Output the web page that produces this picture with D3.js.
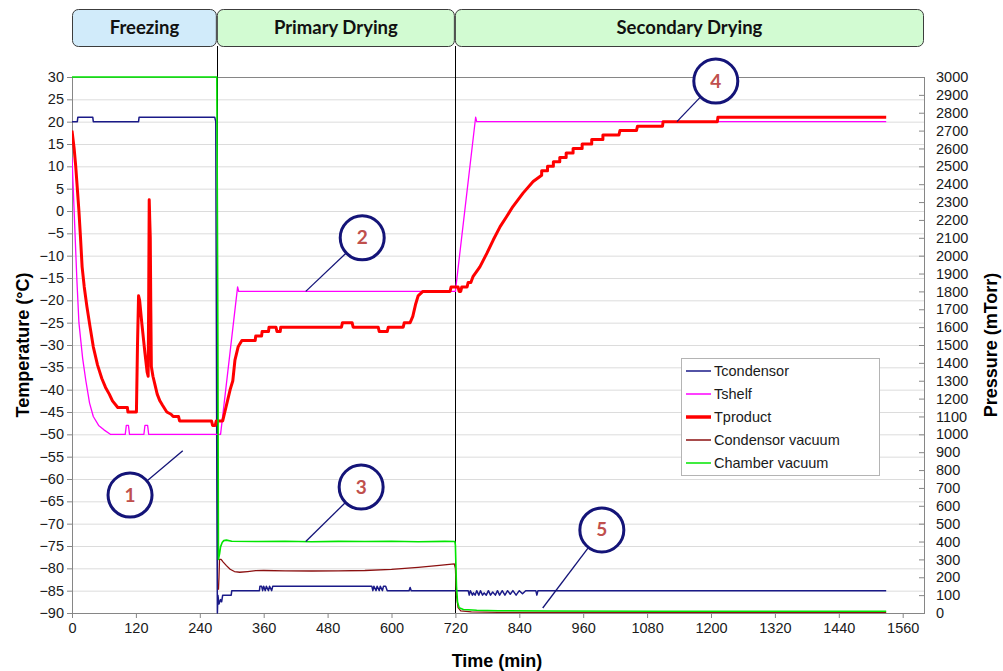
<!DOCTYPE html>
<html>
<head>
<meta charset="utf-8">
<script src="https://cdn.jsdelivr.net/npm/d3@7"></script>
<style>
  html, body { margin: 0; padding: 0; background: #fff; }
  svg { display: block; }
</style>
</head>
<body>
<svg id="chart" width="1003" height="671"></svg>
<script>
// ---- Freeze-drying cycle record: temperatures (°C) and pressures (mTorr) vs time (min) ----

const timeTicks = d3.range(0, 1561, 120);
const tempTicks = d3.range(-90, 31, 5);
const pressTicks = d3.range(0, 3001, 100);

const phases = [
  { name: "Freezing", start: 0, end: 272, fill: "#d1ebfa" },
  { name: "Primary Drying", start: 272, end: 719, fill: "#d2fbd2" },
  { name: "Secondary Drying", start: 719, end: 1600, fill: "#d2fbd2" }
];

// [time, °C]
const tCondensor = [
  [0,20],[10,20],[11,21],[39,21],[40,20],[125,20],[126,21],[268,21],[270,20],[272,-60],[273,-90],
  [274,-86],[276,-88],[279,-87],[281,-87.5],[283,-86],[299,-86],[300,-85],[352,-85],[353,-84],
  [356,-84],[358,-85],[360,-84],[363,-85],[365,-84],[369,-85],[371,-84],[375,-85],[377,-84],
  [563,-84],[565,-85],[567,-84],[571,-85],[573,-84],[577,-85],[579,-84],[583,-85],[585,-84],
  [589,-84],[592,-85],[633,-85],[635,-84.3],[637,-85],[744,-85],[746,-86],[748,-85],[752,-86],
  [754,-85.5],[757,-86],[760,-85],[764,-86],[767,-85],[771,-86],[774,-85.5],[778,-86],[782,-85],
  [786,-86],[790,-85.3],[795,-86],[799,-85],[803,-86],[808,-85],[813,-86],[818,-85],[823,-85.8],
  [828,-85],[834,-86],[840,-85],[846,-85.7],[852,-85],[871,-85],[873,-86],[875,-85],[1529,-85]
];

const tShelf = [
  [0,12],[5,-3],[9,-15],[13,-25],[20,-33],[26,-38],[33,-43],[40,-46],[50,-48],[60,-49],[72,-50],
  [100,-50],[102,-48],[106,-48],[108,-50],[135,-50],[137,-48],[142,-48],[144,-50],[279,-50],
  [311,-17],[313,-18],[720,-18],[758,21],[760,20],[1529,20]
];

const tProduct = [
  [0,18],[4,14],[7,10],[10,5],[13,0],[16,-6],[19,-12.5],[23,-17],[28,-21.4],[34,-26],[40,-30.4],
  [48,-34.5],[56,-37.5],[63,-39.5],[70,-41],[76,-42.5],[86,-44],[104,-44],[105,-45],[121,-45],
  [123,-30],[125,-19],[127,-20],[131,-25],[137,-31.8],[141,-36],[143,-37],[144,-20],[145,2.5],
  [146,-2],[147,-6],[148,-22],[149,-34.8],[152,-37],[155,-38.5],[160,-41],[165,-42.5],[170,-43.5],
  [178,-45],[186,-45.5],[190,-46],[200,-46],[202,-47],[262,-47],[264,-48],[269,-48],[271,-47],
  [283,-47],[287,-45],[297,-40],[302,-38],[306,-33.4],[312,-30.4],[319,-29],[344,-29],[345,-28],
  [356,-28],[357,-27],[369,-27],[370,-26],[383,-26],[385,-27],[391,-27],[392,-26],[506,-26],
  [508,-25],[526,-25],[528,-26],[575,-26],[577,-27],[592,-27],[594,-26],[622,-26],[624,-25],
  [635,-25],[640,-23.6],[645,-21],[650,-19],[659,-18],[710,-18],[712,-17],[725,-17],[727,-18],
  [730,-18],[732,-17],[742,-17],[744,-16],[749,-16],[753,-14.7],[766,-12.5],[779,-9.5],[791,-6.5],
  [804,-3.5],[816,-1.3],[828,1],[847,4],[866,6.6],[882,8],[882,9],[893,9],[893,10],[904,10],
  [904,11],[916,11],[916,12],[928,12],[928,13],[941,13],[941,14],[958,14],[958,15],[976,15],
  [976,16],[997,16],[997,17],[1027,17],[1029,18],[1060,18],[1062,19],[1109,19],[1110,20],
  [1212,20],[1213,21],[1529,21]
];

// [time, mTorr]
const condensorVacuum = [
  [275,130],[276,200],[277,300],[280,300],[284,285],[290,265],[297,245],[305,232],[315,228],
  [330,232],[345,237],[360,238],[400,236],[450,235],[500,236],[550,238],[600,244],[650,255],
  [690,266],[718,275],[720,250],[722,100],[725,30],[730,12],[750,6],[800,4],[1000,3],[1529,3]
];

const chamberVacuum = [
  [0,3000],[272,3000],[274,1500],[275,300],[277,330],[279,370],[282,395],[285,405],[290,408],
  [300,402],[350,400],[400,402],[450,399],[500,401],[550,400],[600,402],[650,399],[700,401],
  [719,400],[720,380],[722,150],[724,60],[727,30],[735,20],[760,15],[800,13],[900,11],
  [1100,10],[1300,10],[1529,10]
];

// numbered callouts: anchor on a curve, circle centre (same units as its axis)
const callouts = [
  { label: "1", axis: "T", at: [208, -53.7], centre: [109, -63.6] },
  { label: "2", axis: "T", at: [439, -18], centre: [545, -6] },
  { label: "3", axis: "P", at: [439, 400], centre: [543, -61.8] },
  { label: "4", axis: "T", at: [1136, 20], centre: [1209, 29.1] },
  { label: "5", axis: "P", at: [884, 28], centre: [995, -71.4] }
];

const series = [
  { name: "Tcondensor", data: tCondensor, axis: "T", color: "#1a1a88", width: 1.5 },
  { name: "Tshelf", data: tShelf, axis: "T", color: "#ff00ff", width: 1.3 },
  { name: "Tproduct", data: tProduct, axis: "T", color: "#ff0000", width: 3 },
  { name: "Condensor vacuum", data: condensorVacuum, axis: "P", color: "#8b1010", width: 1.3 },
  { name: "Chamber vacuum", data: chamberVacuum, axis: "P", color: "#00e600", width: 1.6 }
];

// ---- layout ----
const L = 72, R = 924, T = 77, B = 613;
const svg = d3.select("#chart");
const x = d3.scaleLinear().domain([0, 1600]).range([L, R]);
const yT = d3.scaleLinear().domain([-90, 30]).range([B, T]);
const yP = d3.scaleLinear().domain([0, 3000]).range([B, T]);
const yOf = a => (a === "T" ? yT : yP);

const tickFont = "'Liberation Sans', Arial, sans-serif";
const axisGrey = "#868686";
const fmt = d3.format("d");

// gridlines
svg.append("g").selectAll("line")
  .data(tempTicks.filter(v => v > -90 && v < 30))
  .join("line")
  .attr("x1", L).attr("x2", R)
  .attr("y1", d => yT(d) + 0.5).attr("y2", d => yT(d) + 0.5)
  .attr("stroke", "#dcdcdc").attr("stroke-width", 1);

// axes
function styleAxis(g) {
  g.select(".domain").remove();
  g.selectAll(".tick line").attr("stroke", axisGrey);
  g.selectAll(".tick text").attr("fill", "#1a1a1a")
    .style("font-family", tickFont).style("font-size", "14.5px");
}
svg.append("g").attr("transform", `translate(${L},0)`)
  .call(d3.axisLeft(yT).tickValues(tempTicks).tickFormat(fmt).tickSize(5).tickPadding(3))
  .call(styleAxis);
svg.append("g").attr("transform", `translate(${R},0)`)
  .call(d3.axisRight(yP).tickValues(pressTicks).tickFormat(fmt).tickSize(-5).tickPadding(12))
  .call(styleAxis);
svg.append("g").attr("transform", `translate(0,${B})`)
  .call(d3.axisBottom(x).tickValues(timeTicks).tickFormat(fmt).tickSize(5).tickPadding(5))
  .call(styleAxis);

// plot frame
svg.append("rect")
  .attr("x", L + 0.5).attr("y", T + 0.5)
  .attr("width", R - L).attr("height", B - T)
  .attr("fill", "none").attr("stroke", axisGrey).attr("stroke-width", 1);

// phase boxes and dividers
svg.append("g").selectAll("rect")
  .data(phases).join("rect")
  .attr("x", d => x(d.start) + 0.5)
  .attr("y", 9.5)
  .attr("width", d => x(d.end) - x(d.start) - 1)
  .attr("height", 37)
  .attr("rx", 6).attr("ry", 6)
  .attr("fill", d => d.fill)
  .attr("stroke", "#3c3c3c").attr("stroke-width", 1);
svg.append("g").selectAll("text")
  .data(phases).join("text")
  .attr("x", d => (x(d.start) + x(d.end)) / 2)
  .attr("y", 34)
  .attr("text-anchor", "middle")
  .style("font-family", "Lato, 'Open Sans', sans-serif")
  .style("font-weight", "700").style("font-size", "18.5px")
  .attr("fill", "#111")
  .text(d => d.name);
svg.append("g").selectAll("line")
  .data(phases.slice(1)).join("line")
  .attr("x1", d => Math.round(x(d.start)) + 0.5).attr("x2", d => Math.round(x(d.start)) + 0.5)
  .attr("y1", 46).attr("y2", B)
  .attr("stroke", "#000").attr("stroke-width", 1);

// series
svg.append("clipPath").attr("id", "plotClip")
  .append("rect").attr("x", L).attr("y", T - 2).attr("width", R - L).attr("height", B - T + 3);
const lines = svg.append("g").attr("clip-path", "url(#plotClip)");
series.forEach(s => {
  const yy = yOf(s.axis);
  lines.append("path")
    .datum(s.data)
    .attr("fill", "none")
    .attr("stroke", s.color)
    .attr("stroke-width", s.width)
    .attr("stroke-linejoin", "round")
    .attr("d", d3.line().x(d => x(d[0])).y(d => yy(d[1])));
});

// legend
const lg = svg.append("g").attr("transform", "translate(681,358)");
lg.append("rect").attr("x", 0.5).attr("y", 0.5).attr("width", 198).attr("height", 117)
  .attr("fill", "#fff").attr("stroke", "#b4b4b4");
series.forEach((s, i) => {
  const cy = 13 + i * 23;
  lg.append("line").attr("x1", 5).attr("x2", 30).attr("y1", cy).attr("y2", cy)
    .attr("stroke", s.color).attr("stroke-width", s.name === "Tproduct" ? 3.5 : 1.5);
  lg.append("text").attr("x", 33).attr("y", cy + 5)
    .style("font-family", tickFont).style("font-size", "14.5px").attr("fill", "#1a1a1a")
    .text(s.name);
});

// callouts
const r = 22;
const cg = svg.append("g");
callouts.forEach(c => {
  const ax = x(c.at[0]), ay = yOf(c.axis)(c.at[1]);
  const cx = x(c.centre[0]), cy = yT(c.centre[1]);
  const dx = ax - cx, dy = ay - cy, len = Math.hypot(dx, dy);
  cg.append("line")
    .attr("x1", cx + dx / len * r).attr("y1", cy + dy / len * r)
    .attr("x2", ax).attr("y2", ay)
    .attr("stroke", "#141478").attr("stroke-width", 1.3);
  cg.append("circle").attr("cx", cx).attr("cy", cy).attr("r", r)
    .attr("fill", "#fff").attr("stroke", "#141478").attr("stroke-width", 3);
  cg.append("text").attr("x", cx).attr("y", cy + 6.5)
    .attr("text-anchor", "middle")
    .style("font-family", "Lato, 'Open Sans', sans-serif")
    .style("font-weight", "700").style("font-size", "19px")
    .attr("fill", "#c0504d")
    .text(c.label);
});

// axis titles
const titleStyle = sel => sel.style("font-family", tickFont).style("font-weight", "700")
  .style("font-size", "18px").attr("fill", "#000").attr("text-anchor", "middle");
svg.append("text").attr("transform", `translate(29,${(T + B) / 2}) rotate(-90)`)
  .call(titleStyle).text("Temperature (°C)");
svg.append("text").attr("transform", `translate(997,${(T + B) / 2}) rotate(-90)`)
  .call(titleStyle).text("Pressure (mTorr)");
svg.append("text").attr("x", 497).attr("y", 667)
  .call(titleStyle).text("Time (min)");
</script>
</body>
</html>
